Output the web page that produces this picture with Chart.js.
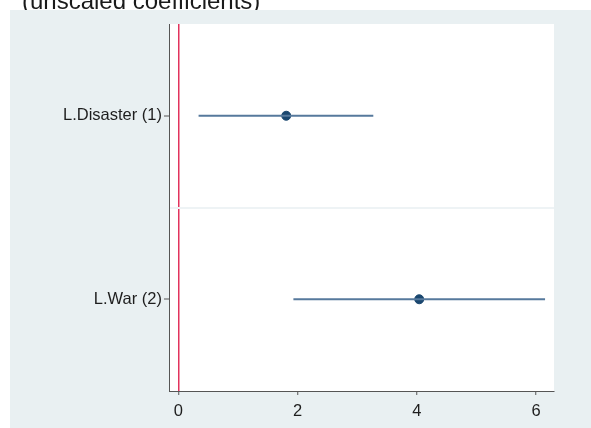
<!DOCTYPE html>
<html>
<head>
<meta charset="utf-8">
<script src="https://cdn.jsdelivr.net/npm/chart.js@4"></script>
<style>
  html, body { margin: 0; padding: 0; background: #fff; }
  #box { position: relative; width: 591px; height: 428px; }
</style>
</head>
<body>
<div id="box"><canvas id="grafica" width="591" height="428"></canvas></div>
<script>
// coefficient plot data
const etiquetas = ["L.Disaster (1)", "L.War (2)"];
const coeficientes = [1.81, 4.04];
const ciBajo = [0.34, 1.93];
const ciAlto = [3.27, 6.15];
const ticksX = [0, 2, 4, 6];
const subtitulo = "(unscaled coefficients)";

const azulLinea = "#56799c";
const azulPunto = "#1a476f";
const fondo = "#e9f0f2";
const fuente = "'Liberation Sans', Arial, sans-serif";

const datasets = [];
etiquetas.forEach((et, i) => {
  datasets.push({
    type: "line",
    label: et + " CI",
    data: [{ x: ciBajo[i], y: i + 1 }, { x: ciAlto[i], y: i + 1 }],
    borderColor: azulLinea,
    borderWidth: 2,
    pointRadius: 0,
    fill: false,
  });
});
datasets.push({
  type: "scatter",
  label: "coef",
  data: coeficientes.map((c, i) => ({ x: c, y: i + 1 })),
  backgroundColor: azulPunto,
  borderColor: azulPunto,
  pointRadius: 4.5,
});

const fondoPlugin = {
  id: "fondo",
  beforeDraw(chart) {
    const ctx = chart.ctx;
    const a = chart.chartArea;
    ctx.save();
    ctx.fillStyle = "#ffffff";
    ctx.fillRect(0, 0, chart.width, chart.height);
    ctx.fillStyle = "#1a1a1a";
    ctx.font = "24px " + fuente;
    ctx.textBaseline = "alphabetic";
    ctx.fillText(subtitulo, 22, 8.5);
    ctx.fillStyle = fondo;
    ctx.fillRect(10, 10, chart.width - 10, chart.height - 10);
    ctx.fillStyle = "#ffffff";
    ctx.fillRect(a.left, a.top, a.right - a.left, a.bottom - a.top);
    ctx.restore();
  }
};

new Chart(document.getElementById("grafica"), {
  type: "scatter",
  data: { datasets },
  plugins: [fondoPlugin],
  options: {
    responsive: false,
    animation: false,
    layout: { padding: { top: 24, right: 37, left: 0, bottom: 0 } },
    plugins: { legend: { display: false }, tooltip: { enabled: false } },
    scales: {
      x: {
        type: "linear",
        min: -0.156,
        max: 6.3,
        afterBuildTicks: (s) => { s.ticks = ticksX.map(v => ({ value: v })); },
        afterFit: (s) => { s.height = 37; },
        border: { display: true, color: "#555555", width: 1 },
        grid: {
          drawOnChartArea: true,
          color: (c) => c.tick && c.tick.value === 0 ? "#e2335d" : "transparent",
          lineWidth: 1.5,
          tickColor: "#555555",
          tickLength: 4,
          tickWidth: 1,
        },
        ticks: {
          color: "#1e1e1e",
          font: { family: fuente, size: 16.5 },
          padding: 7,
          maxRotation: 0,
        },
      },
      y: {
        type: "linear",
        reverse: true,
        min: 0.5,
        max: 2.5,
        afterBuildTicks: (s) => { s.ticks = [{ value: 1 }, { value: 1.5 }, { value: 2 }]; },
        afterFit: (s) => { s.width = 169; },
        border: { display: true, color: "#555555", width: 1 },
        grid: {
          color: (c) => c.tick && c.tick.value === 1.5 ? "#eef3f5" : "transparent",
          lineWidth: 2,
          tickColor: (c) => c.tick && c.tick.value === 1.5 ? "transparent" : "#555555",
          tickLength: 5,
          tickWidth: 1,
        },
        ticks: {
          color: "#1e1e1e",
          font: { family: fuente, size: 16.5 },
          padding: 2,
          callback: (v) => v === 1 ? etiquetas[0] : v === 2 ? etiquetas[1] : "",
        },
      },
    },
  },
});
</script>
</body>
</html>
